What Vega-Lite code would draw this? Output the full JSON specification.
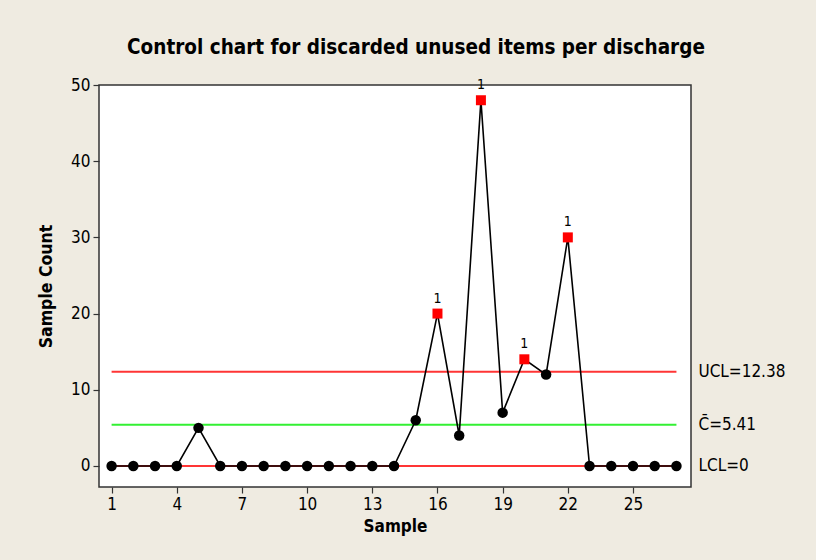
{
  "$schema": "https://vega.github.io/schema/vega-lite/v6.json",
  "width": 592,
  "height": 402,
  "autosize": "none",
  "padding": {"left": 99, "top": 85, "right": 125, "bottom": 73},
  "background": "#EFEBE1",
  "config": {
    "font": "DejaVu Sans Condensed, DejaVu Sans",
    "view": {"stroke": "#333333", "strokeWidth": 1.5, "fill": "white"}
  },
  "title": {
    "text": "Control chart for discarded unused items per discharge",
    "fontSize": 20.5,
    "fontWeight": "bold",
    "color": "black",
    "anchor": "middle",
    "frame": "group",
    "dx": 21,
    "offset": 18
  },
  "datasets": {
    "counts": [
      {"sample": 1, "count": 0, "status": "in"},
      {"sample": 2, "count": 0, "status": "in"},
      {"sample": 3, "count": 0, "status": "in"},
      {"sample": 4, "count": 0, "status": "in"},
      {"sample": 5, "count": 5, "status": "in"},
      {"sample": 6, "count": 0, "status": "in"},
      {"sample": 7, "count": 0, "status": "in"},
      {"sample": 8, "count": 0, "status": "in"},
      {"sample": 9, "count": 0, "status": "in"},
      {"sample": 10, "count": 0, "status": "in"},
      {"sample": 11, "count": 0, "status": "in"},
      {"sample": 12, "count": 0, "status": "in"},
      {"sample": 13, "count": 0, "status": "in"},
      {"sample": 14, "count": 0, "status": "in"},
      {"sample": 15, "count": 6, "status": "in"},
      {"sample": 16, "count": 20, "status": "out"},
      {"sample": 17, "count": 4, "status": "in"},
      {"sample": 18, "count": 48, "status": "out"},
      {"sample": 19, "count": 7, "status": "in"},
      {"sample": 20, "count": 14, "status": "out"},
      {"sample": 21, "count": 12, "status": "in"},
      {"sample": 22, "count": 30, "status": "out"},
      {"sample": 23, "count": 0, "status": "in"},
      {"sample": 24, "count": 0, "status": "in"},
      {"sample": 25, "count": 0, "status": "in"},
      {"sample": 26, "count": 0, "status": "in"},
      {"sample": 27, "count": 0, "status": "in"}
    ],
    "limits": [
      {"name": "UCL", "sample": 1, "value": 12.38, "label": "UCL=12.38"},
      {"name": "UCL", "sample": 27, "value": 12.38, "label": "UCL=12.38"},
      {"name": "CL", "sample": 1, "value": 5.41, "label": "C̄=5.41"},
      {"name": "CL", "sample": 27, "value": 5.41, "label": "C̄=5.41"},
      {"name": "LCL", "sample": 1, "value": 0, "label": "LCL=0"},
      {"name": "LCL", "sample": 27, "value": 0, "label": "LCL=0"}
    ]
  },
  "encoding": {
    "x": {
      "field": "sample",
      "type": "quantitative",
      "scale": {"domain": [0.42, 27.67], "nice": false, "zero": false},
      "axis": {
        "title": "Sample",
        "values": [1, 4, 7, 10, 13, 16, 19, 22, 25],
        "grid": false,
        "domain": false,
        "tickColor": "#333333",
        "tickSize": 6,
        "tickWidth": 1.2,
        "labelFontSize": 17,
        "labelColor": "black",
        "labelPadding": 3,
        "titleFontSize": 17,
        "titleFontWeight": "bold",
        "titleColor": "black",
        "titlePadding": 6
      }
    },
    "y": {
      "type": "quantitative",
      "scale": {"domain": [-2.76, 50], "nice": false, "zero": false},
      "axis": {
        "title": "Sample Count",
        "values": [0, 10, 20, 30, 40, 50],
        "grid": false,
        "domain": false,
        "tickColor": "#333333",
        "tickSize": 6,
        "tickWidth": 1.2,
        "labelFontSize": 17,
        "labelColor": "black",
        "labelPadding": 3,
        "titleFontSize": 17.5,
        "titleFontWeight": "bold",
        "titleColor": "black",
        "titlePadding": 15
      }
    }
  },
  "layer": [
    {
      "data": {"name": "limits"},
      "mark": {"type": "line", "strokeWidth": 2},
      "encoding": {
        "y": {"field": "value"},
        "detail": {"field": "name"},
        "color": {
          "field": "name",
          "type": "nominal",
          "scale": {"domain": ["UCL", "CL", "LCL"], "range": ["#FF3535", "#33F033", "#FF3535"]},
          "legend": null
        }
      }
    },
    {
      "data": {"name": "limits"},
      "transform": [{"filter": "datum.sample == 27"}],
      "mark": {"type": "text", "align": "left", "baseline": "middle", "dx": 22, "fontSize": 17, "color": "black", "clip": false},
      "encoding": {
        "y": {"field": "value"},
        "text": {"field": "label"}
      }
    },
    {
      "data": {"name": "counts"},
      "mark": {"type": "line", "color": "black", "strokeWidth": 1.6},
      "encoding": {"y": {"field": "count"}}
    },
    {
      "data": {"name": "counts"},
      "transform": [{"filter": "datum.status == 'in'"}],
      "mark": {"type": "point", "shape": "circle", "filled": true, "color": "black", "opacity": 1, "size": 110},
      "encoding": {"y": {"field": "count"}}
    },
    {
      "data": {"name": "counts"},
      "transform": [{"filter": "datum.status == 'out'"}],
      "mark": {"type": "point", "shape": "square", "filled": true, "color": "#FF0000", "opacity": 1, "size": 100},
      "encoding": {"y": {"field": "count"}}
    },
    {
      "data": {"name": "counts"},
      "transform": [{"filter": "datum.status == 'out'"}],
      "mark": {"type": "text", "dy": -15, "fontSize": 14, "color": "black"},
      "encoding": {"y": {"field": "count"}, "text": {"value": "1"}}
    }
  ]
}
